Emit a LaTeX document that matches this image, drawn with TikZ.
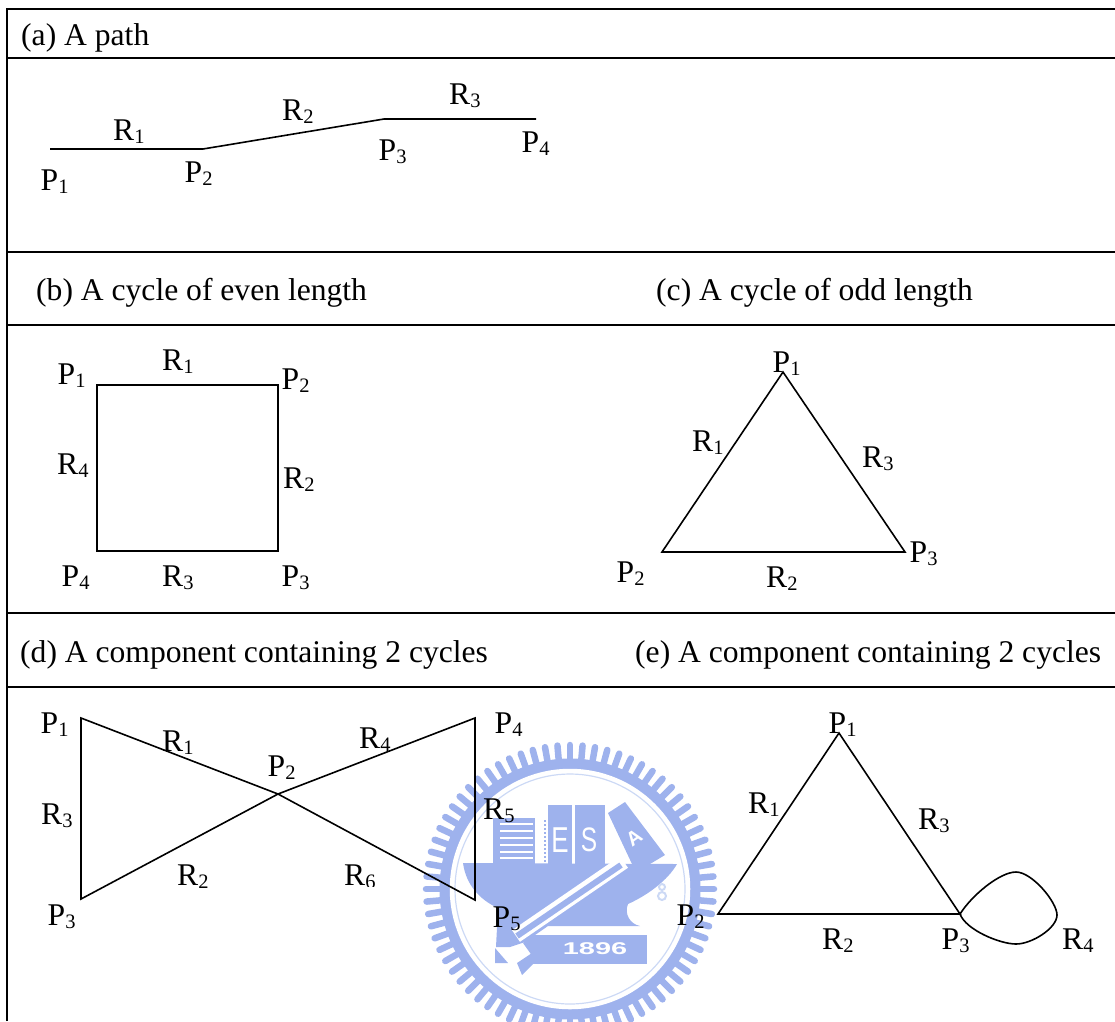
\documentclass[tikz,border=0pt]{standalone}
\usepackage{fontspec}
\setmainfont{Liberation Serif}
\setsansfont{Liberation Sans}
\usetikzlibrary{calc}
\definecolor{Crest}{rgb}{0.62, 0.70, 0.93}
\definecolor{CrestPale}{rgb}{0.80, 0.85, 0.96}
\newcommand{\idx}[2]{#1\raisebox{-3.5pt}{\fontsize{20.5}{20.5}\selectfont #2}}

\begin{document}
\begin{tikzpicture}[
  x=1pt, y=-1pt,
  rule/.style={line width=2pt, black},
  edge/.style={line width=1.6pt, black, line join=miter},
  title/.style={anchor=base west, inner sep=0pt, font=\fontsize{31.6}{36}\selectfont},
  lab/.style={anchor=base west, inner sep=0pt, font=\fontsize{31.6}{36}\selectfont},
  crest/.style={fill=Crest, draw=none},
  cresttext/.style={inner sep=0pt, text=white, font=\sffamily, transform shape}
]
\useasboundingbox (0,0) rectangle (1115,1021);
\clip (0,0) rectangle (1115,1021);

% Crest behind the last row
\coordinate (crestc) at (570,889);
\foreach \a in {0,5,...,355} {
  \draw[Crest, line width=6.5pt, line cap=round] ($(crestc)+(\a:126)$) -- ($(crestc)+(\a:144)$);
}
\draw[Crest, line width=11pt] (crestc) circle (125);
\draw[white, line width=2.5pt] (crestc) circle (119);
\draw[CrestPale, line width=1.2pt] (crestc) circle (115);
% hull
\fill[crest] (463,863) -- (677,864) .. controls (668,880) and (648,895) .. (628,904)
  .. controls (624,914) and (630,924) .. (640,926) -- (548,926) -- (525,942)
  -- (510,947) -- (496,947) -- (498,908) .. controls (480,900) and (466,885) .. (463,863) -- cycle;
% books
\fill[crest] (493,818) rectangle (535,864);
\fill[crest] (548,805) rectangle (572,864);
\fill[crest] (575,805) rectangle (605,864);
\fill[crest] (608,813) -- (625,802) -- (665,855) -- (650,864) -- (632,864) -- cycle;
\foreach \y in {824,831,838,845,852,858} {
  \draw[white, line width=1.8pt] (500,\y) -- (533,\y);
}
\draw[Crest, line width=2pt, dotted] (545,820) -- (545,862);
\node[cresttext, font=\fontsize{36}{36}\selectfont\sffamily, xscale=0.72] (crestE) at (560,840) {E};
\node[cresttext, font=\fontsize{34}{34}\selectfont\sffamily, xscale=0.72] (crestS) at (589,840) {S};
\node[cresttext, font=\fontsize{20}{20}\selectfont\bfseries\sffamily, rotate=35] (crestA) at (634,838) {A};
% pen
\draw[white, line width=14pt] (516,936) -- (624,862);
\draw[Crest, line width=6pt] (517,936) -- (621,865);
\fill[crest] (495,948) -- (508,963) -- (495,963) -- cycle;
\fill[crest] (517,963) -- (532,953) -- (536,961) -- (522,975) -- cycle;
% banner
\fill[crest] (533,935) rectangle (647,964);
\fill[crest] (533,935) -- (523,943) -- (538,964) -- cycle;
\node[cresttext, font=\fontsize{17}{17}\selectfont\bfseries\sffamily, xscale=1.7] (crestyear) at (595,949) {1896};
% hook
\draw[CrestPale, line width=2pt] (662,896) circle (4);
\draw[CrestPale, line width=2pt] (662,887) circle (3);

% Table rules
\coordinate (tl) at (7,9);
\coordinate (tr) at (1115,9);
\coordinate (bl) at (7,1021);
\draw[rule] (bl) -- (tl) -- (tr);
\foreach \y in {58,252,325,613,687} {
  \draw[rule] (7,\y) -- (1115,\y);
}

% Row titles
\node[title] (ta) at (21,45)   {(a) A path};
\node[title] (tb) at (36,300)  {(b) A cycle of even length};
\node[title] (tc) at (656,300) {(c) A cycle of odd length};
\node[title] (td) at (20,662)  {(d) A component containing 2 cycles};
\node[title] (te) at (635,662) {(e) A component containing 2 cycles};

% (a) path
\coordinate (a1) at (50,149);
\coordinate (a2) at (203,149);
\coordinate (a3) at (384,119);
\coordinate (a4) at (536,119);
\draw[edge] (a1) -- (a2) -- (a3) -- (a4);
\node[lab] (ap1) at (40.5,190) {\idx{P}{1}};
\node[lab] (ap2) at (184.5,182) {\idx{P}{2}};
\node[lab] (ap3) at (378.5,160) {\idx{P}{3}};
\node[lab] (ap4) at (521.5,152) {\idx{P}{4}};
\node[lab] (ar1) at (113,140) {\idx{R}{1}};
\node[lab] (ar2) at (282,120) {\idx{R}{2}};
\node[lab] (ar3) at (449,104) {\idx{R}{3}};

% (b) square
\coordinate (b1) at (97,385);
\coordinate (b2) at (278,385);
\coordinate (b3) at (278,551);
\coordinate (b4) at (97,551);
\draw[edge] (b1) -- (b2) -- (b3) -- (b4) -- cycle;
\node[lab] (bp1) at (57.5,384) {\idx{P}{1}};
\node[lab] (bp2) at (281.5,389) {\idx{P}{2}};
\node[lab] (bp3) at (281.5,586) {\idx{P}{3}};
\node[lab] (bp4) at (61.5,586) {\idx{P}{4}};
\node[lab] (br1) at (162,370) {\idx{R}{1}};
\node[lab] (br2) at (283,488) {\idx{R}{2}};
\node[lab] (br3) at (162,586) {\idx{R}{3}};
\node[lab] (br4) at (57,474)  {\idx{R}{4}};

% (c) triangle
\coordinate (c1) at (783,372);
\coordinate (c2) at (662,552);
\coordinate (c3) at (905,552);
\draw[edge] (c1) -- (c2) -- (c3) -- cycle;
\node[lab] (cp1) at (772.5,372) {\idx{P}{1}};
\node[lab] (cp2) at (616.5,582) {\idx{P}{2}};
\node[lab] (cp3) at (909.5,562) {\idx{P}{3}};
\node[lab] (cr1) at (692,451) {\idx{R}{1}};
\node[lab] (cr2) at (766,587) {\idx{R}{2}};
\node[lab] (cr3) at (862,467) {\idx{R}{3}};

% (d) two triangles
\coordinate (d1) at (81,718);
\coordinate (d2) at (278,794);
\coordinate (d3) at (81,899);
\coordinate (d4) at (475,718);
\coordinate (d5) at (475,900);
\draw[edge] (d1) -- (d2) -- (d3) -- cycle;
\draw[edge] (d2) -- (d4) -- (d5) -- cycle;
\node[lab] (dp1) at (40.5,733) {\idx{P}{1}};
\node[lab] (dp2) at (267.5,776) {\idx{P}{2}};
\node[lab] (dp3) at (47.5,925) {\idx{P}{3}};
\node[lab] (dp4) at (494.5,733) {\idx{P}{4}};
\node[lab] (dp5) at (492.5,927) {\idx{P}{5}};
\node[lab] (dr1) at (162,751) {\idx{R}{1}};
\node[lab] (dr2) at (177,885) {\idx{R}{2}};
\node[lab] (dr3) at (41,824)  {\idx{R}{3}};
\node[lab] (dr4) at (359,748) {\idx{R}{4}};
\node[lab] (dr5) at (483,819) {\idx{R}{5}};
\begin{scope}
  \clip (340,850) rectangle (380,886);
  \node[lab] (dr6) at (344,885) {\idx{R}{6}};
\end{scope}

% (e) triangle and loop
\coordinate (e1) at (839,733);
\coordinate (e2) at (718,914);
\coordinate (e3) at (960,914);
\draw[edge] (e1) -- (e2) -- (e3) -- cycle;
\draw[edge] (e3) .. controls (972,895) and (1000,872) .. (1016,872)
  .. controls (1032,872) and (1057,902) .. (1057,915)
  .. controls (1057,928) and (1032,944) .. (1016,944)
  .. controls (1000,944) and (966,930) .. (e3);
\node[lab] (ep1) at (828.5,733) {\idx{P}{1}};
\node[lab] (ep2) at (676.5,925) {\idx{P}{2}};
\node[lab] (ep3) at (941.5,949) {\idx{P}{3}};
\node[lab] (er1) at (748,813) {\idx{R}{1}};
\node[lab] (er2) at (822,949) {\idx{R}{2}};
\node[lab] (er3) at (918,829) {\idx{R}{3}};
\node[lab] (er4) at (1062,949) {\idx{R}{4}};

\end{tikzpicture}
\end{document}
